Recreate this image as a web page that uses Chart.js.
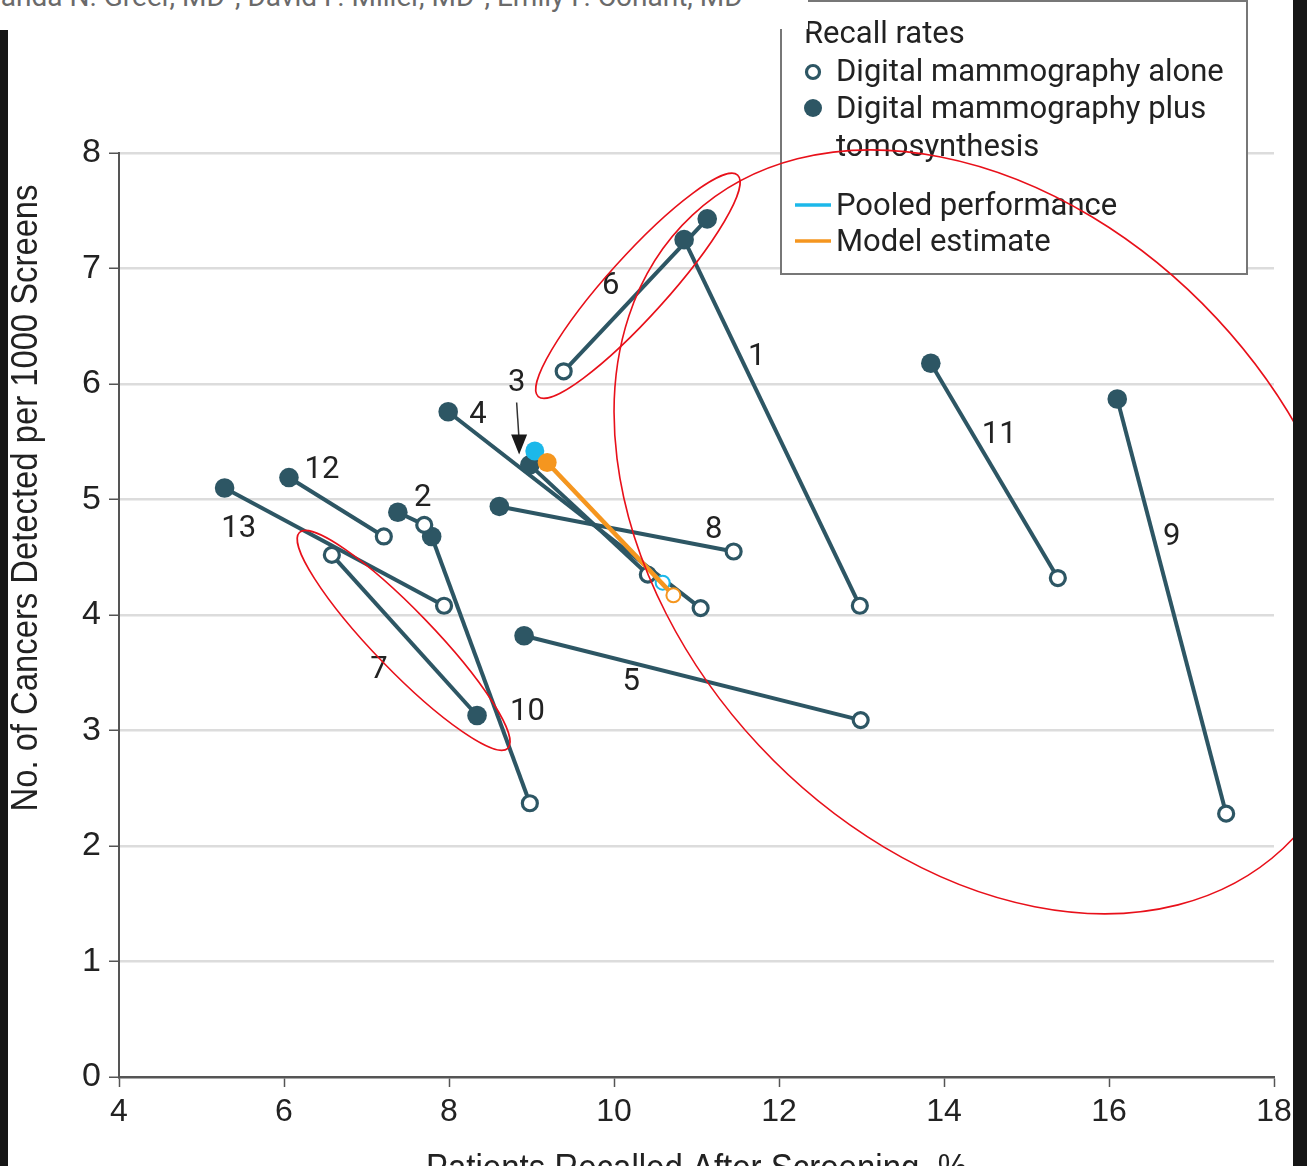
<!DOCTYPE html>
<html>
<head>
<meta charset="utf-8">
<script src="https://cdn.jsdelivr.net/npm/chart.js@4.4.1/dist/chart.umd.min.js"></script>
<style>
  html, body { margin: 0; padding: 0; background: #fff; overflow: hidden; width: 1307px; height: 1166px; }
  #wrap { position: absolute; left: 0; top: 0; width: 1307px; height: 1200px; }
  #authors { position: absolute; left: 0; top: 0; width: 808px; height: 29px; background: #fff; overflow: hidden; z-index: 3; }
  #authors span { position: absolute; left: -42px; top: -17px; font: 28px Roboto; line-height: 28px; color: #6a6a6a; white-space: nowrap; }
  #authors sup { line-height: 0; font-size: 18px; }
  .edgeL { position: absolute; left: 0; top: 30px; width: 8px; height: 1136px; background: #161616; z-index: 4; }
  .edgeR { position: absolute; left: 1293px; top: 0; width: 14px; height: 1166px; background: #161616; z-index: 4; }
</style>
</head>
<body>
<div id="authors"><span>Amanda N. Greer, MD<sup>1</sup>, David P. Miller, MD<sup>2</sup>, Emily F. Conant, MD<sup>3</sup></span></div>
<div id="wrap"><canvas id="recallChart" width="1307" height="1200"></canvas></div>
<div class="edgeL"></div>
<div class="edgeR"></div>
<script>
// --- data ---
const studies = ['1', '2', '3', '4', '5', '6', '7', '8', '9', '10', '11', '12', '13'];
// digital mammography alone (open markers)
const dmRecall = [12.98, 7.70, 10.41, 11.05, 12.99, 9.39, 6.58, 11.45, 17.42, 8.98, 15.38, 7.21, 7.94];
const dmCancers = [4.08, 4.78, 4.35, 4.06, 3.09, 6.11, 4.52, 4.55, 2.28, 2.37, 4.32, 4.68, 4.08];
// digital mammography plus tomosynthesis (filled markers)
const dbtRecall = [10.85, 7.38, 8.98, 7.99, 8.91, 11.13, 8.34, 8.61, 16.10, 7.79, 13.84, 6.06, 5.28];
const dbtCancers = [7.25, 4.89, 5.30, 5.76, 3.82, 7.43, 3.13, 4.94, 5.87, 4.68, 6.18, 5.19, 5.10];
// pooled performance and model estimate: [DM alone, DM + DBT]
const pooledRecall = [10.59, 9.04];
const pooledCancers = [4.28, 5.42];
const modelRecall = [10.72, 9.19];
const modelCancers = [4.17, 5.32];

const xTicks = [4, 6, 8, 10, 12, 14, 16, 18];
const yTicks = [0, 1, 2, 3, 4, 5, 6, 7, 8];

// where the study numbers sit (data units)
const labelRecall = [11.73, 7.68, 8.82, 8.35, 10.21, 9.96, 7.15, 11.21, 16.76, 8.95, 14.67, 6.46, 5.45];
const labelCancers = [6.23, 5.01, 6.01, 5.73, 3.42, 6.85, 3.52, 4.73, 4.67, 3.16, 5.56, 5.25, 4.74];

// hand-drawn red rings on the figure (center in data units)
const ringRecall = [10.29, 7.45, 14.53];
const ringCancers = [6.85, 3.78, 4.72];

const TEAL = '#2d5664';
const CYAN = '#1cb8ea';
const ORANGE = '#f5961f';
const AXIS_FAMILY = '"Liberation Sans", Arial, sans-serif';
const LABEL_FONT = '31px Roboto';

function pairOf(xs, ys) {
    return xs.map((v, i) => ({ x: v, y: ys[i] }));
}

const studyDatasets = studies.map((s, i) => ({
    label: 'Study ' + s,
    data: pairOf([dmRecall[i], dbtRecall[i]], [dmCancers[i], dbtCancers[i]]),
    showLine: true,
    borderColor: TEAL,
    borderWidth: 4,
    pointRadius: [7.5, 9.8],
    pointBorderWidth: [3.2, 0],
    pointBackgroundColor: ['#fff', TEAL],
    pointBorderColor: TEAL,
    order: 2
}));

const pooledDataset = {
    label: 'Pooled performance',
    data: pairOf(pooledRecall, pooledCancers),
    showLine: true,
    borderColor: CYAN,
    borderWidth: 2.5,
    pointRadius: [7, 9.5],
    pointBorderWidth: [2, 0],
    pointBackgroundColor: ['#fff', CYAN],
    pointBorderColor: CYAN,
    order: 1
};

const modelDataset = {
    label: 'Model estimate',
    data: pairOf(modelRecall, modelCancers),
    showLine: true,
    borderColor: ORANGE,
    borderWidth: 4.5,
    pointRadius: [7, 9.5],
    pointBorderWidth: [2, 0],
    pointBackgroundColor: ['#fff', ORANGE],
    pointBorderColor: ORANGE,
    order: 0
};

// squeeze a title into a given length (the original uses a condensed face)
function condensedText(ctx, text, cx, cy, length, angle) {
    ctx.save();
    ctx.font = '36px ' + AXIS_FAMILY;
    const w = ctx.measureText(text).width;
    ctx.translate(cx, cy);
    ctx.rotate(angle);
    ctx.scale(length / w, 1);
    ctx.fillStyle = '#222';
    ctx.textAlign = 'center';
    ctx.textBaseline = 'alphabetic';
    ctx.fillText(text, 0, 0);
    ctx.restore();
}

// study numbers, the arrow to study 3, axis titles, the legend box and the red rings
const overlayPlugin = {
    id: 'overlay',
    afterDatasetsDraw(chart) {
        const { ctx, scales: { x, y } } = chart;
        ctx.save();
        ctx.font = LABEL_FONT;
        ctx.fillStyle = '#222';
        ctx.textAlign = 'center';
        ctx.textBaseline = 'middle';
        studies.forEach((s, i) => {
            ctx.fillText(s, x.getPixelForValue(labelRecall[i]), y.getPixelForValue(labelCancers[i]));
        });

        // arrow from the "3" down to its filled marker
        const ax = x.getPixelForValue(8.82), ay = y.getPixelForValue(5.84);
        const tx = x.getPixelForValue(8.85), ty = y.getPixelForValue(5.39);
        ctx.strokeStyle = '#333';
        ctx.lineWidth = 1.5;
        ctx.beginPath();
        ctx.moveTo(ax, ay);
        ctx.lineTo(tx, ty - 14);
        ctx.stroke();
        ctx.fillStyle = '#1a1a1a';
        ctx.beginPath();
        ctx.moveTo(tx, ty);
        ctx.lineTo(tx - 8, ty - 20);
        ctx.lineTo(tx + 8, ty - 20);
        ctx.closePath();
        ctx.fill();
        ctx.restore();
    },
    afterDraw(chart) {
        const { ctx, scales: { x, y } } = chart;

        // axis titles
        condensedText(ctx, 'No. of Cancers Detected per 1000 Screens', 37, 498, 627, -Math.PI / 2);
        condensedText(ctx, 'Patients Recalled After Screening, %', (x.left + x.right) / 2, 1180, 541, 0);

        ctx.save();
        // legend box
        ctx.fillStyle = '#fff';
        ctx.fillRect(780, 0, 468, 274);
        ctx.strokeStyle = '#777';
        ctx.lineWidth = 2;
        ctx.strokeRect(781, 1, 466, 273);

        ctx.fillStyle = '#222';
        ctx.font = LABEL_FONT;
        ctx.textAlign = 'left';
        ctx.textBaseline = 'middle';
        ctx.fillText('Recall rates', 804, 35);
        ctx.fillText('Digital mammography alone', 836, 73);
        ctx.fillText('Digital mammography plus', 836, 110);
        ctx.fillText('tomosynthesis', 836, 148);
        ctx.fillText('Pooled performance', 836, 207);
        ctx.fillText('Model estimate', 836, 243);

        ctx.strokeStyle = TEAL;
        ctx.lineWidth = 3.2;
        ctx.beginPath();
        ctx.arc(813, 72, 6.5, 0, Math.PI * 2);
        ctx.stroke();
        ctx.fillStyle = TEAL;
        ctx.beginPath();
        ctx.arc(813, 108, 9, 0, Math.PI * 2);
        ctx.fill();

        ctx.lineWidth = 3.5;
        ctx.strokeStyle = CYAN;
        ctx.beginPath();
        ctx.moveTo(795, 205);
        ctx.lineTo(831, 205);
        ctx.stroke();
        ctx.strokeStyle = ORANGE;
        ctx.beginPath();
        ctx.moveTo(795, 241);
        ctx.lineTo(831, 241);
        ctx.stroke();

        // red rings
        const ringRx = [149, 150, 433];
        const ringRy = [30, 30, 313];
        const ringRot = [-48, 46, 47];
        ctx.strokeStyle = '#e8101a';
        ctx.lineWidth = 1.6;
        ringRecall.forEach((r, i) => {
            ctx.beginPath();
            ctx.ellipse(x.getPixelForValue(r), y.getPixelForValue(ringCancers[i]),
                ringRx[i], ringRy[i], ringRot[i] * Math.PI / 180, 0, Math.PI * 2);
            ctx.stroke();
        });
        ctx.restore();
    }
};

const ctx = document.getElementById('recallChart').getContext('2d');
const recallChart = new Chart(ctx, {
    type: 'scatter',
    data: {
        datasets: [modelDataset, pooledDataset, ...studyDatasets]
    },
    options: {
        responsive: false,
        animation: false,
        events: [],
        layout: { padding: { top: 153, right: 33, left: 0, bottom: 0 } },
        elements: { line: { tension: 0 } },
        plugins: {
            legend: { display: false },
            tooltip: { enabled: false }
        },
        scales: {
            x: {
                type: 'linear',
                min: 4,
                max: 18,
                afterBuildTicks: (scale) => { scale.ticks = xTicks.map(v => ({ value: v })); },
                afterFit: (scale) => { scale.height = 1200 - 1077; },
                ticks: { color: '#222', font: { family: AXIS_FAMILY, size: 32 }, padding: 6 },
                grid: { drawOnChartArea: false, tickLength: 10, tickColor: '#555', tickWidth: 1.5 },
                border: { color: '#555', width: 2.5 },
                title: { display: false }
            },
            y: {
                min: 0,
                max: 8,
                afterBuildTicks: (scale) => { scale.ticks = yTicks.map(v => ({ value: v })); },
                afterFit: (scale) => { scale.width = 119; },
                ticks: { color: '#222', font: { family: AXIS_FAMILY, size: 34 }, padding: 8 },
                grid: {
                    color: (c) => (c.tick && c.tick.value === 0) ? 'rgba(0,0,0,0)' : '#dcdcdc',
                    lineWidth: 2.5,
                    tickLength: 10,
                    tickColor: '#555',
                    tickWidth: 1.5
                },
                border: { color: '#555', width: 2 },
                title: { display: false }
            }
        }
    },
    plugins: [overlayPlugin]
});
</script>
</body>
</html>
